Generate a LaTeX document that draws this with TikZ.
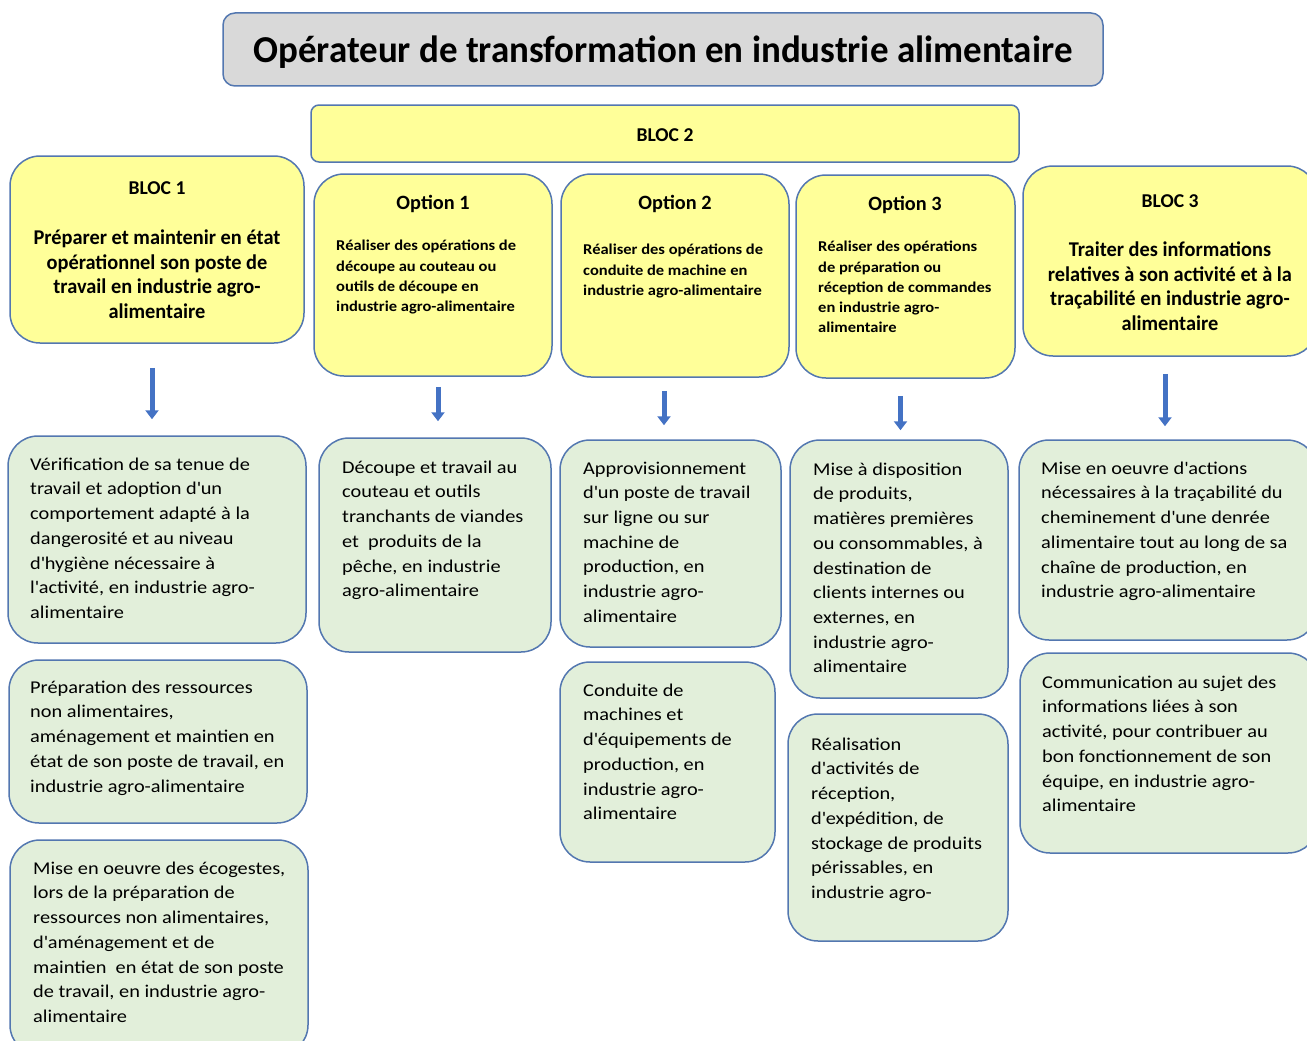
\documentclass[tikz,border=0pt]{standalone}
\usepackage{fontspec}
\setmainfont{Carlito}
\newfontfamily\titlefam{Carlito}[FakeStretch=0.972]
\newfontfamily\headfam{Carlito}[FakeStretch=1.0]
\newfontfamily\blocfam{Carlito}[FakeStretch=0.97]
\newfontfamily\optfam{Carlito}[FakeStretch=1.10]
\newfontfamily\skillfam{Carlito}[FakeStretch=1.13]
\usetikzlibrary{arrows.meta}

\definecolor{titlegray}{HTML}{D9D9D9}
\definecolor{blocyellow}{HTML}{FFFF99}
\definecolor{skillgreen}{HTML}{E2EFDA}
\definecolor{bordercol}{HTML}{5377B0}
\definecolor{arrowblue}{HTML}{4472C4}

\tikzset{
  box/.style={draw=bordercol, line width=1.5pt, rounded corners=30pt, inner sep=0pt},
  titlebox/.style={box, fill=titlegray, rounded corners=12pt},
  blocbox/.style={box, fill=blocyellow},
  skillbox/.style={box, fill=skillgreen},
  flow/.style={draw=arrowblue, line width=5pt, -{Triangle[width=13pt,length=9pt]}},
  head/.style={inner sep=0pt, font=\headfam\bfseries\fontsize{19.6}{22}\selectfont},
  opthead/.style={inner sep=0pt, font=\headfam\bfseries\fontsize{20.3}{22}\selectfont},
  bloctext/.style={anchor=north, inner sep=0pt, align=center, font=\blocfam\bfseries\fontsize{21}{24.5}\selectfont},
  opttext/.style={anchor=north west, inner sep=0pt, align=left, font=\optfam\bfseries\fontsize{15}{20.3}\selectfont},
  skilltext/.style={anchor=north west, inner sep=0pt, align=left, font=\skillfam\fontsize{18}{24.7}\selectfont},
}

\begin{document}
\begin{tikzpicture}[x=1pt,y=-1pt]
  \useasboundingbox (0,0) rectangle (1307,1041);
  \clip (0,0) rectangle (1307,1041);

  % title
  \node[titlebox, minimum width=880pt, minimum height=73pt] (title) at (663,49.5) {};  % title box
  \node[inner sep=0pt, font=\titlefam\bfseries\fontsize{38}{46}\selectfont] (titletxt) at (663,52) {Opérateur de transformation en industrie alimentaire};  % title label

  % bloc 2 banner
  \node[blocbox, rounded corners=8pt, minimum width=708pt, minimum height=57pt] (bloc2) at (665,133.5) {};  % banner
  \node[head] (bloc2txt) at (665,135) {BLOC 2};  % banner label

  % bloc 1
  \node[blocbox, minimum width=294pt, minimum height=187pt] (bloc1) at (157,249.5) {};  % bloc box
  \node[head] (bloc1head) at (157,188) {BLOC 1};  % bloc label
  \node[bloctext] (bloc1txt) at (157,230) {Préparer et maintenir en état\\opérationnel son poste de\\travail en industrie agro-\\alimentaire};  % bloc text

  % options of bloc 2
  \node[blocbox, minimum width=238pt, minimum height=202pt] (opt1) at (433,275) {};  % option box
  \node[opthead] (opt1head) at (433,204) {Option 1};  % option label
  \node[opttext] (opt1txt) at (336,240) {Réaliser des opérations de\\découpe au couteau ou\\outils de découpe en\\industrie agro-alimentaire};  % option text

  \node[blocbox, minimum width=228pt, minimum height=203pt] (opt2) at (675,275.5) {};  % option box
  \node[opthead] (opt2head) at (675,204) {Option 2};  % option label
  \node[opttext] (opt2txt) at (583,244) {Réaliser des opérations de\\conduite de machine en\\industrie agro-alimentaire};  % option text

  \node[blocbox, minimum width=219pt, minimum height=203pt] (opt3) at (905.5,276.5) {};  % option box
  \node[opthead] (opt3head) at (905,205) {Option 3};  % option label
  \node[opttext] (opt3txt) at (818,241) {Réaliser des opérations\\de préparation ou\\réception de commandes\\en industrie agro-\\alimentaire};  % option text

  % bloc 3
  \node[blocbox, minimum width=294pt, minimum height=190pt] (bloc3) at (1170,261) {};  % bloc box
  \node[head] (bloc3head) at (1170,201) {BLOC 3};  % bloc label
  \node[bloctext] (bloc3txt) at (1170,242) {Traiter des informations\\relatives à son activité et à la\\traçabilité en industrie agro-\\alimentaire};  % bloc text

  % skills of bloc 1
  \node[skillbox, minimum width=298pt, minimum height=207pt] (tenue) at (157,539.5) {};
  \node[skilltext] (tenuetxt) at (30,457.5) {Vérification de sa tenue de\\travail et adoption d\textquotesingle un\\comportement adapté à la\\dangerosité et au niveau\\d\textquotesingle hygiène nécessaire à\\l\textquotesingle activité, en industrie agro-\\alimentaire};
  \node[skillbox, minimum width=298pt, minimum height=163pt] (ressources) at (158,741.5) {};
  \node[skilltext] (ressourcestxt) at (30,680.5) {Préparation des ressources\\non alimentaires,\\aménagement et maintien en\\état de son poste de travail, en\\industrie agro-alimentaire};
  \node[skillbox, minimum width=298pt, minimum height=215pt] (ecogestes) at (159,947.5) {};
  \node[skilltext] (ecogestestxt) at (33,861.5) {Mise en oeuvre des écogestes,\\lors de la préparation de\\ressources non alimentaires,\\d\textquotesingle aménagement et de\\maintien \ en état de son poste\\de travail, en industrie agro-\\alimentaire};

  % skills of option 1
  \node[skillbox, minimum width=232pt, minimum height=214pt] (decoupe) at (435,545) {};
  \node[skilltext] (decoupetxt) at (342,460.5) {Découpe et travail au\\couteau et outils\\tranchants de viandes\\et \ produits de la\\pêche, en industrie\\agro-alimentaire};

  % skills of option 2
  \node[skillbox, minimum width=221pt, minimum height=207pt] (appro) at (670.5,543.5) {};
  \node[skilltext] (approtxt) at (583,461.5) {Approvisionnement\\d\textquotesingle un poste de travail\\sur ligne ou sur\\machine de\\production, en\\industrie agro-\\alimentaire};
  \node[skillbox, minimum width=215pt, minimum height=200pt] (conduite) at (667.5,762) {};
  \node[skilltext] (conduitetxt) at (583,683.5) {Conduite de\\machines et\\d\textquotesingle équipements de\\production, en\\industrie agro-\\alimentaire};

  % skills of option 3
  \node[skillbox, minimum width=218pt, minimum height=258pt] (dispo) at (899,569) {};
  \node[skilltext] (dispotxt) at (813,462.5) {Mise à disposition\\de produits,\\matières premières\\ou consommables, à\\destination de\\clients internes ou\\externes, en\\industrie agro-\\alimentaire};
  \node[skillbox, minimum width=220pt, minimum height=227pt] (reception) at (898,827.5) {};
  \node[skilltext] (receptiontxt) at (811,737.5) {Réalisation\\d\textquotesingle activités de\\réception,\\d\textquotesingle expédition, de\\stockage de produits\\périssables, en\\industrie agro-};

  % skills of bloc 3
  \node[skillbox, minimum width=298pt, minimum height=200pt] (traca) at (1168,540) {};
  \node[skilltext] (tracatxt) at (1041,461.5) {Mise en oeuvre d\textquotesingle actions\\nécessaires à la traçabilité du\\cheminement d\textquotesingle une denrée\\alimentaire tout au long de sa\\chaîne de production, en\\industrie agro-alimentaire};
  \node[skillbox, minimum width=298pt, minimum height=200pt] (commu) at (1169,753) {};
  \node[skilltext] (commutxt) at (1042,675.5) {Communication au sujet des\\informations liées à son\\activité, pour contribuer au\\bon fonctionnement de son\\équipe, en industrie agro-\\alimentaire};

  % arrows from blocs to skills
  \draw[flow, shorten <=24pt, shorten >=16pt] ([xshift=-5pt]bloc1.south) -- ([xshift=-5pt]bloc1.south |- tenue.north);
  \draw[flow, shorten <=10pt, shorten >=16pt] ([xshift=5pt]opt1.south) -- ([xshift=5pt]opt1.south |- decoupe.north);
  \draw[flow, shorten <=13pt, shorten >=14pt] ([xshift=-11pt]opt2.south) -- ([xshift=-11pt]opt2.south |- appro.north);
  \draw[flow, shorten <=17pt, shorten >=9pt] ([xshift=-5pt]opt3.south) -- ([xshift=-5pt]opt3.south |- dispo.north);
  \draw[flow, shorten <=17pt, shorten >=13pt] ([xshift=-5pt]bloc3.south) -- ([xshift=-5pt]bloc3.south |- traca.north);
\end{tikzpicture}
\end{document}
